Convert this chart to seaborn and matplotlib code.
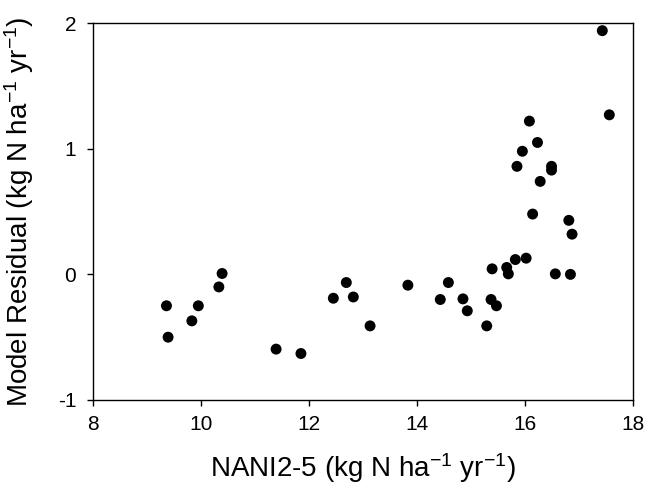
import matplotlib
matplotlib.use("Agg")
import matplotlib.pyplot as plt
import seaborn as sns
import pandas as pd

nani = [9.36, 9.39, 9.83, 9.95, 10.33, 10.39, 11.39, 11.85, 12.45, 12.69,
        12.82, 13.13, 13.83, 14.43, 14.58, 14.85, 14.93, 15.29, 15.37, 15.39,
        15.47, 15.66, 15.69, 15.82, 16.02, 15.85, 15.95, 16.08, 16.14, 16.23,
        16.28, 16.49, 16.49, 16.56, 16.81, 16.87, 16.84, 17.43, 17.56]
residual = [-0.25, -0.50, -0.37, -0.25, -0.10, 0.007, -0.595, -0.63, -0.19, -0.065,
            -0.18, -0.41, -0.086, -0.20, -0.065, -0.195, -0.29, -0.41, -0.20, 0.044,
            -0.25, 0.055, 0.004, 0.118, 0.129, 0.86, 0.98, 1.22, 0.48, 1.05,
            0.74, 0.86, 0.83, 0.004, 0.43, 0.32, 0.0, 1.94, 1.27]
x_ticks = [8, 10, 12, 14, 16, 18]
y_ticks = [-1, 0, 1, 2]

df = pd.DataFrame({"x": nani, "y": residual})

sns.set_style("white")
plt.rcParams["font.family"] = ["Liberation Sans", "DejaVu Sans"]
plt.rcParams["mathtext.fontset"] = "custom"
plt.rcParams["mathtext.rm"] = "Liberation Sans"
plt.rcParams["mathtext.it"] = "Liberation Sans"
plt.rcParams["mathtext.default"] = "regular"
plt.rcParams["text.color"] = "black"
plt.rcParams["axes.labelcolor"] = "black"
plt.rcParams["xtick.color"] = "black"
plt.rcParams["ytick.color"] = "black"

fig = plt.figure(figsize=(6.46, 4.92), dpi=100)
ax = fig.add_axes([0.144, 0.187, 0.836, 0.766])
sns.scatterplot(data=df, x="x", y="y", ax=ax, color="black", s=62,
                edgecolor="none", linewidth=0)
ax.set_xlim(8, 18)
ax.set_ylim(-1, 2)
ax.set_xticks(x_ticks)
ax.set_yticks(y_ticks)
ax.set_xticklabels([str(t) for t in x_ticks], fontsize=15)
ax.set_yticklabels([str(t) for t in y_ticks], fontsize=15)
ax.tick_params(axis="both", direction="out", length=4, width=1, color="black",
               bottom=True, left=True, top=False, right=False)
ax.tick_params(axis="x", pad=7)
ax.tick_params(axis="y", pad=8)
for sp in ax.spines.values():
    sp.set_visible(True)
    sp.set_color("black")
    sp.set_linewidth(1.0)
ax.set_xlabel(r"NANI2-5 (kg N ha$^{-1}$ yr$^{-1}$)", fontsize=20, labelpad=12)
ax.set_ylabel(r"Model Residual (kg N ha$^{-1}$ yr$^{-1}$)", fontsize=20, labelpad=16)
fig.savefig("out.png", dpi=100)
